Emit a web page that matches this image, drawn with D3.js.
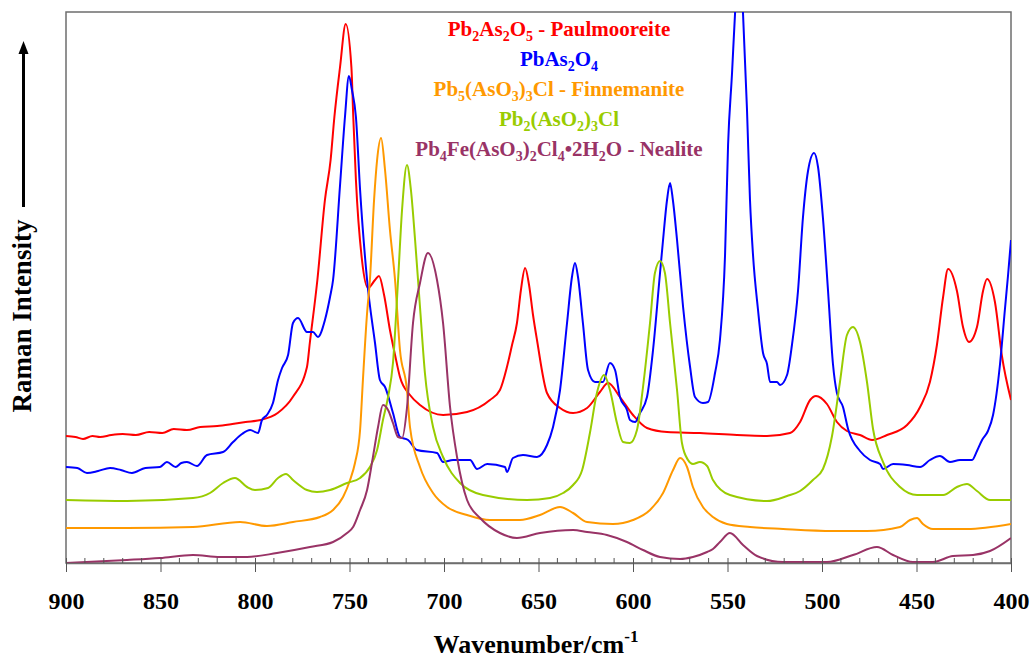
<!DOCTYPE html>
<html>
<head>
<meta charset="utf-8">
<script src="https://cdn.jsdelivr.net/npm/d3@7"></script>
<style>
  html, body { margin: 0; padding: 0; background: #fff; overflow: hidden; }
  svg { display: block; }
  text { font-family: "Liberation Serif", "Times New Roman", serif; font-weight: bold; }
</style>
</head>
<body>
<script>
// chart size
const width = 1032;
const height = 660;
const margin = { top: 12, right: 21, bottom: 97, left: 66 };

// ! Spectra: [wavenumber (cm-1), intensity (arb. units)]
// Pb2As2O5 - Paulmooreite
const paulmooreite = [
  [900,127],[895,126],[891,124],[886,127],[882,126],[876,128],[870,129],[863,128],[856,131],[849,130],
  [843,134],[836,133],[829,136],[820,137],[812,139],[805,141],[797,143],[788,150],
  [780,166],[772.5,196],[771,220],[767,283],[763,363],[760,403],[758,446],[755,496],[752,539],
  [749,496],[748,446],[746.6,383],[743.4,303],[740.2,275],[736.5,283],[734.4,287],[731.7,268],
  [728.6,233],[725.9,208],[723.3,186],[718,168],[712.7,158],[700.5,148],[687.8,151],[675.7,163],
  [670.4,173],[666.7,196],[664,218],[661.4,240],[659.3,273],[657.1,295],[655,278],[652.9,248],
  [650.8,223],[645.5,170],[638.6,155],[631.7,150],[624.3,155],[617.5,171],[613.2,180],[606.9,166],
  [600,148],[592.6,135],[582,131],[564.6,130],[545,128],[529.1,127],[516.9,130],[511.6,141],
  [506.3,163],[503.2,167],[497.4,159],[492.1,141],[486.8,132],[479.9,128],[473.5,123],[465.6,128],
  [455,138],[448.1,156],[442.9,181],[439.2,218],[436,265],[433.3,294],[428.6,272],[425.4,236],
  [422.2,221],[418,236],[414.8,272],[412.7,284],[408.5,261],[404.8,207],[400,163]
];

// PbAs2O4
const pbAs2O4 = [
  [900,96],[894,95],[888.9,90],[883,92],[876.7,95],[871,93],[865.1,90],[858,95],[850.3,96],[846.6,101],
  [842,96],[839,100],[836,101],[830.7,97],[825.4,108],
  [816.9,111],[811.6,121],[806.9,129],[802.6,133],[798.4,130],[796.3,143],[793.7,148],[790.5,160],
  [787.8,183],[785.7,195],[782.5,208],[779.9,240],[777.2,245],[772.5,231],[769.3,231],[766.7,226],
  [763,243],[760.3,266],[758.7,283],[755,378],[752.4,446],[750.3,487],[748.7,473],[746.6,446],
  [744.4,373],[740.7,283],[736.5,220],[733.9,183],[731.2,176],[727,150],[723.3,126],[719,123],
  [714.3,113],[703.7,110],[700.5,101],[695.2,103],[686.2,103],[682.5,94],[677.2,99],[667.7,96],
  [666.7,91],[663.5,105],[658.2,108],[650.8,106],[645.5,118],[642.3,136],[638.6,173],[634.9,240],
  [632.3,286],[630.7,300],[629.1,286],[626.5,240],[623.8,193],[620.1,181],[615.9,181],[612.2,200],
  [609.5,193],[606.9,166],[603.2,153],[601.6,143],[598.9,141],[596.3,150],[592.6,166],[589.4,213],
  [585.7,290],[584.1,323],[582,363],[580.4,380],[578.9,363],[576.7,323],[573.5,256],[569.8,196],
  [567.2,166],[563,160],[560.3,161],[556.6,190],[554,223],[551.3,308],[549.7,418],[547.6,490],
  [546,550],[543.9,603],[541.8,550],[539.7,454],[538.1,363],[536.5,308],[533.9,254],[531.2,210],
  [529.1,199],[527.5,181],[523.8,181],[522.2,178],[518.5,188],[515.9,218],[512.7,272],[510.1,345],
  [507.4,392],[504.2,410],[502.1,396],[499.5,345],[496.8,272],[494.2,199],[492.1,170],[488.9,156],
  [486.2,134],[479.9,112],[474.6,103],[469.3,99],[467.7,94],[462.4,99],[455,98],[448.1,96],
  [442.9,103],[437.6,107],[432.3,101],[427,103],[420.6,103],[418,112],[415.3,123],[412.2,132],
  [409.5,148],[405.8,199],[403.2,254],[401.6,287],[400,323]
];

// Pb5(AsO3)3Cl - Finnemanite
const finnemanite = [
  [900,35],[867.7,35],[832.8,36],[807.9,41],[793.7,37],[779.9,41],[765.6,46],[758.7,53],[753.4,66],
  [749.7,83],[747.1,100],[744.4,133],[742.9,183],[740.7,250],[739.2,283],[737,363],[735.4,403],
  [733.3,425],[731.2,393],[728.6,333],[725.9,283],[723.3,213],[719.6,173],[718,136],[712.7,96],
  [705.8,70],[698.4,56],[687.8,48],[675.7,43],[659.8,43],[649.2,48],[638.6,56],[631.7,50],
  [624.3,41],[610.6,39],[600,43],[591,53],[584.1,70],[578.8,93],[575.1,105],[571.4,96],[568.3,76],
  [563,56],[557.7,46],[550.3,39],[538.1,36],[520.6,34],[494.2,32],[476.2,32],[458.7,36],[453.4,43],
  [449.7,45],[446.6,39],[441.3,34],[423.3,34],[400,39]
];

// Pb2(AsO2)3Cl
const pb2AsO2Cl = [
  [900,63],[867.7,62],[832.8,65],[823.8,70],[816.9,80],[810.6,85],[804.2,76],[800,73],[793.1,75],
  [787.8,85],[783.6,89],[779.9,83],[772.5,73],[767.2,71],[760.3,73],[751.3,80],[744.4,85],[739.2,96],
  [735.4,113],[732.3,143],[729.6,166],[727,200],[724.3,283],[722.2,353],[719.6,398],[717.5,373],
  [715.3,323],[712.7,256],[710.1,190],[705.8,136],[700.5,106],[691.5,80],[679.4,68],[656.1,63],
  [643.9,65],[637,70],[631.7,78],[626.9,93],[622.8,130],[619.1,170],[615.3,188],[612.2,173],
  [608.5,140],[605.3,121],[601.6,120],[597.9,133],[594.7,176],[591,240],[588.4,290],[585.7,302],
  [583.1,290],[580.4,240],[576.7,173],[574.1,120],[570.9,103],[568.3,99],[564.6,101],[560.8,97],
  [557.7,83],[548.7,68],[529.1,62],[518.5,67],[511.6,72],[504.8,83],[499.5,94],[494.7,127],
  [490.5,181],[486.8,228],[483.6,236],[479.9,221],[476.2,181],[473,134],[467.7,101],[458.7,76],
  [449.7,68],[435.9,68],[428.6,76],[423.3,79],[418,72],[411.1,63],[400,63]
];

// Pb4Fe(AsO3)2Cl4.2H2O - Nealite
const nealite = [
  [900,0],[867.7,3],[850.3,5],[832.8,8],[818.5,6],[804.2,6],[788.4,10],[770.9,16],[758.7,21],
  [751.3,30],[748.1,36],[744.4,53],[740.7,73],[737.6,106],[734.9,136],[732.3,158],[729.6,153],
  [727,140],[724.3,126],[722.2,125],[719.6,155],[716.4,240],[712.7,280],[708.5,310],[703.7,283],
  [700.5,240],[696.8,156],[693.1,106],[687.8,63],[680.9,45],[670.4,30],[661.4,25],[649.2,30],
  [631.7,33],[624.3,31],[613.8,28],[603.2,21],[594.7,13],[585.7,6],[575.1,4],[568.3,6],[560.8,11],
  [557.7,14],[554,21],[548.7,30],[541.8,18],[534.4,7],[520.6,1],[497.4,1],[483.6,8],[470.9,16],
  [462.4,8],[451.9,1],[441.3,1],[430.7,7],[420.1,8],[411.1,12],[400,25]
];

const seriesData = [paulmooreite, pbAs2O4, finnemanite, pb2AsO2Cl, nealite];
const seriesColors = ["#ff0000", "#0000ff", "#ff9900", "#99cc00", "#993366"];
// "_x" = subscript character
const seriesLabels = [
  "Pb_2As_2O_5 - Paulmooreite",
  "PbAs_2O_4",
  "Pb_5(AsO_3)_3Cl - Finnemanite",
  "Pb_2(AsO_2)_3Cl",
  "Pb_4Fe(AsO_3)_2Cl_4•2H_2O - Nealite"
];
const xTicks = [900, 850, 800, 750, 700, 650, 600, 550, 500, 450, 400];

const svg = d3
  .select("body")
  .append("svg")
  .attr("width", width)
  .attr("height", height);

const innerWidth = width - margin.left - margin.right;
const innerHeight = height - margin.top - margin.bottom;

const xScale = d3.scaleLinear().domain([900, 400]).range([0, innerWidth]);
const yScale = d3.scaleLinear().domain([0, 551]).range([innerHeight, 0]);

const g = svg.append("g").attr("transform", `translate(${margin.left}, ${margin.top})`);

g.append("clipPath")
  .attr("id", "plotClip")
  .append("rect")
  .attr("width", innerWidth)
  .attr("height", innerHeight);

// ! frame
g.append("rect")
  .attr("width", innerWidth)
  .attr("height", innerHeight)
  .attr("fill", "none")
  .attr("stroke", "#6e6e6e")
  .attr("stroke-width", 1.5);

// ! spectra
const line = d3
  .line()
  .x((d) => xScale(d[0]))
  .y((d) => yScale(d[1]))
  .curve(d3.curveMonotoneX);

g.append("g")
  .attr("clip-path", "url(#plotClip)")
  .selectAll("path")
  .data(seriesData)
  .enter()
  .append("path")
  .attr("d", line)
  .attr("fill", "none")
  .attr("stroke", (d, i) => seriesColors[i])
  .attr("stroke-width", 2)
  .attr("stroke-linejoin", "round");

// ! x axis: major ticks cross, minor ticks inside
const xAxisG = g.append("g").attr("transform", `translate(0, ${innerHeight})`);
xAxisG
  .call(d3.axisBottom(xScale).tickValues(xTicks).tickSizeInner(9).tickSizeOuter(0).tickPadding(20))
  .call((a) => a.select(".domain").attr("stroke", "#6e6e6e").attr("stroke-width", 1.5));
xAxisG.selectAll(".tick line").attr("stroke", "#555").attr("y1", -5);
xAxisG
  .selectAll(".tick text")
  .attr("fill", "#000")
  .style("font-size", "24px")
  .style("font-family", "'Liberation Serif', serif")
  .style("font-weight", "bold");

xAxisG
  .selectAll(".minor")
  .data(d3.range(400, 901, 10).filter((v) => v % 50 !== 0))
  .enter()
  .append("line")
  .attr("class", "minor")
  .attr("x1", (d) => xScale(d))
  .attr("x2", (d) => xScale(d))
  .attr("y1", -5)
  .attr("y2", 0)
  .attr("stroke", "#555");

// axis title
const xTitle = svg
  .append("text")
  .attr("x", 536)
  .attr("y", 653)
  .attr("text-anchor", "middle")
  .style("font-size", "26px");
xTitle.append("tspan").text("Wavenumber/cm");
xTitle.append("tspan").attr("dy", -11).style("font-size", "17px").text("-1");

// ! y axis label + arrow
svg
  .append("text")
  .attr("transform", "translate(31, 316) rotate(-90)")
  .attr("text-anchor", "middle")
  .style("font-size", "27px")
  .text("Raman Intensity");

svg
  .append("line")
  .attr("x1", 23.5)
  .attr("x2", 23.5)
  .attr("y1", 207)
  .attr("y2", 52)
  .attr("stroke", "#000")
  .attr("stroke-width", 3);
svg
  .append("path")
  .attr("d", "M23.5,41 L18.5,54 L28.5,54 Z")
  .attr("fill", "#000");

// ! legend labels with subscripts
const legend = svg.append("g");
seriesLabels.forEach((label, i) => {
  const t = legend
    .append("text")
    .attr("x", 559)
    .attr("y", 36 + i * 30)
    .attr("text-anchor", "middle")
    .attr("fill", seriesColors[i])
    .style("font-size", "21px");
  const parts = label.split(/(_.)/).filter((p) => p.length);
  let sub = false;
  parts.forEach((p) => {
    if (p[0] === "_") {
      t.append("tspan").attr("dy", sub ? 0 : 5).style("font-size", "14px").text(p[1]);
      sub = true;
    } else {
      t.append("tspan").attr("dy", sub ? -5 : 0).text(p);
      sub = false;
    }
  });
});
</script>
</body>
</html>
